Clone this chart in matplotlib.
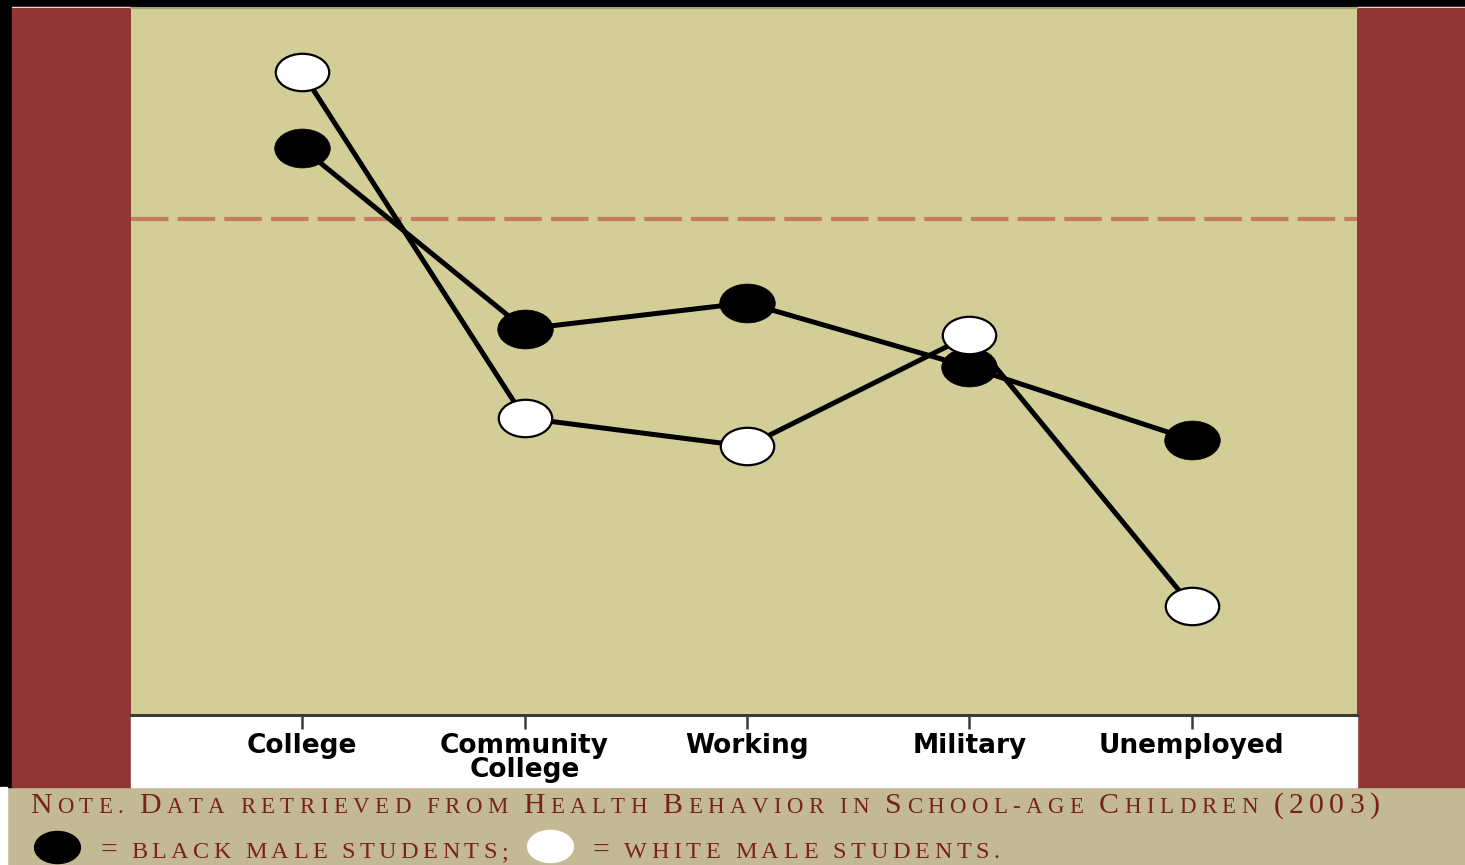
import matplotlib
matplotlib.use("Agg")
import matplotlib.pyplot as plt
from matplotlib.patches import Rectangle
from matplotlib.path import Path
from matplotlib.transforms import Affine2D

# ---- data (arbitrary 0-100 scale) ----
categories = ["College", "Community\nCollege", "Working", "Military", "Unemployed"]
black_male = [80.2, 54.6, 58.3, 49.2, 38.9]
white_male = [90.9, 42.0, 38.0, 53.7, 15.4]
reference_level = 70.2

note_line = "Note. Data retrieved from Health Behavior in School-age Children (2003)"
legend_black = "= black male students;"
legend_white = "= white male students."

# ---- colours ----
RED = "#913535"
KHAKI = "#D3CD98"
BAND = "#C3BA95"
NOTE_RED = "#7A2216"
DASH = "#C47C5E"

W, H = 1465, 865
fig = plt.figure(figsize=(W / 100, H / 100), dpi=100, facecolor=BAND)


def rect(x0, y0, x1, y1, color):
    # pixel box (top-left origin) -> figure fraction patch, kept behind the axes
    fig.patches.append(Rectangle((x0 / W, 1 - y1 / H), (x1 - x0) / W, (y1 - y0) / H,
                                 transform=fig.transFigure, color=color, zorder=-5))


rect(0, 0, W, 7, "black")
rect(0, 0, 12, 787, "black")
rect(0, 787, 7, H, "white")
rect(12, 7, 131, 8, "white")
rect(1357, 7, W, 8, "white")
rect(12, 8, 131, 787, RED)
rect(1357, 8, W, 787, RED)
rect(131, 715, 1357, 787, "white")

# ---- main axes ----
ax = fig.add_axes([131 / W, (H - 715) / H, 1226 / W, 707 / H])
ax.set_facecolor(KHAKI)
ax.set_xlim(-0.769, 4.742)
ax.set_ylim(0, 100)
for s in ["left", "right"]:
    ax.spines[s].set_visible(False)
ax.spines["top"].set_color("#A9A47E")
ax.spines["top"].set_linewidth(1.5)
ax.spines["bottom"].set_color("#3C3C36")
ax.spines["bottom"].set_linewidth(2.2)
ax.set_yticks([])

x = list(range(len(categories)))
ax.set_xticks(x)
ax.set_xticklabels(categories, fontsize=19, fontweight="bold", family="DejaVu Sans",
                   linespacing=0.9)
ax.tick_params(axis="x", direction="out", length=10, width=1.8, color="#3C3C36", pad=3)

ax.axhline(reference_level, color=DASH, lw=3, dashes=(9, 2.2), zorder=1)

ellipse = Path(Affine2D().scale(1.0, 0.7).transform(Path.unit_circle().vertices),
               Path.unit_circle().codes)

ax.plot(x, black_male, color="black", lw=3.6, marker=ellipse, ms=40,
        mfc="black", mec="black", mew=0.5, zorder=3, clip_on=False)
ax.plot(x, white_male, color="black", lw=3.6, marker=ellipse, ms=38.5,
        mfc="white", mec="black", mew=1.6, zorder=4, clip_on=False)


# ---- note text in spaced small caps ----
renderer = fig.canvas.get_renderer()


def tracked(pieces, x_start, x_end, baseline, family="Liberation Serif"):
    texts, widths = [], []
    for ch, size in pieces:
        t = fig.text(0, 0, ch, fontsize=size, family=family, color=NOTE_RED,
                     ha="left", va="baseline")
        if ch == " ":
            w = size * 0.3
        else:
            w = t.get_window_extent(renderer).width
        texts.append(t)
        widths.append(w)
    gap = (x_end - x_start - sum(widths)) / (len(pieces) - 1)
    pos = x_start
    for t, w in zip(texts, widths):
        t.set_position((pos / W, 1 - baseline / H))
        pos += w + gap


def small_caps(text, big, small):
    out = []
    for ch in text:
        if ch.islower():
            out.append((ch.upper(), small))
        elif ch.isupper() or ch.isdigit() or ch in "()":
            out.append((ch, big))
        elif ch == "=":
            out.append((ch, small + 4))
        else:
            out.append((ch, small))
    return out


tracked(small_caps(note_line, 21.5, 16.5), 30, 1380, 813)
tracked(small_caps(legend_black, 17.5, 17.5), 100, 508, 858)
tracked(small_caps(legend_white, 17.5, 17.5), 592, 1000, 858)

# legend ellipses
leg = fig.add_axes([0, 0, 1, 1], facecolor="none")
leg.set_xlim(0, W)
leg.set_ylim(H, 0)
leg.axis("off")
leg.plot([57], [847], marker=ellipse, ms=33, mfc="black", mec="black", ls="none")
leg.plot([550], [846], marker=ellipse, ms=33, mfc="white", mec="white", ls="none")

fig.savefig("out.png", dpi=100, facecolor=fig.get_facecolor())
